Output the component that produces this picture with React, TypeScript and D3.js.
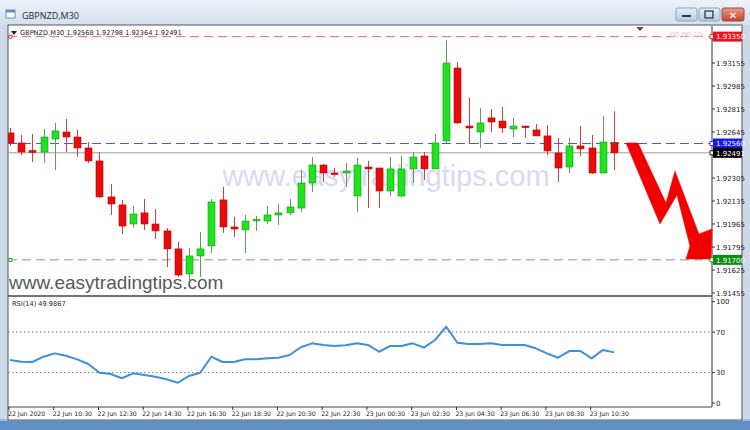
import React from 'react';
import * as d3 from 'd3';

const opens = [1.92638,1.92564,1.92507,1.92497,1.92593,1.92645,1.92608,1.92527,1.92431,1.92165,1.92106,1.91965,1.92047,1.91965,1.91914,1.91781,1.91596,1.91729,1.91803,1.92143,1.91943,1.91921,1.91995,1.91987,1.92032,1.92047,1.92083,1.92268,1.92401,1.92342,1.92342,1.92172,1.92386,1.92379,1.92209,1.92172,1.92372,1.92468,1.92372,1.92579,1.93118,1.92689,1.92645,1.92749,1.92726,1.92667,1.92689,1.92660,1.92616,1.92490,1.92386,1.92542,1.92527,1.92342,1.92568];
const highs = [1.92675,1.92623,1.92630,1.92667,1.92712,1.92741,1.92660,1.92571,1.92497,1.92261,1.92143,1.92098,1.92150,1.92076,1.91936,1.91832,1.91788,1.91906,1.92150,1.92239,1.92017,1.92032,1.92025,1.92098,1.92113,1.92150,1.92364,1.92460,1.92409,1.92379,1.92416,1.92453,1.92431,1.92379,1.92460,1.92468,1.92497,1.92497,1.92630,1.93325,1.93162,1.92896,1.92822,1.92815,1.92830,1.92749,1.92689,1.92704,1.92697,1.92601,1.92601,1.92689,1.92623,1.92763,1.92798];
const lows = [1.92542,1.92475,1.92423,1.92416,1.92364,1.92497,1.92460,1.92416,1.92157,1.92032,1.91891,1.91936,1.91921,1.91854,1.91647,1.91574,1.91551,1.91574,1.91751,1.91899,1.91869,1.91751,1.91914,1.91965,1.91958,1.92032,1.92054,1.92202,1.92276,1.92313,1.92239,1.92054,1.92083,1.92083,1.92172,1.92165,1.92268,1.92290,1.92372,1.92564,1.92705,1.92556,1.92527,1.92645,1.92638,1.92608,1.92601,1.92616,1.92475,1.92276,1.92342,1.92468,1.92335,1.92342,1.92364];
const closes = [1.92564,1.92497,1.92495,1.92608,1.92653,1.92608,1.92527,1.92431,1.92165,1.92113,1.91950,1.92039,1.91965,1.91914,1.91781,1.91588,1.91729,1.91781,1.92128,1.91943,1.91928,1.91987,1.91999,1.92032,1.92047,1.92091,1.92268,1.92401,1.92342,1.92335,1.92357,1.92401,1.92372,1.92209,1.92372,1.92372,1.92460,1.92372,1.92564,1.93155,1.92712,1.92675,1.92712,1.92719,1.92675,1.92689,1.92682,1.92616,1.92505,1.92379,1.92542,1.92520,1.92342,1.92571,1.92491];
const rsi = [42.4,40.8,40.5,45.7,49,46.7,43.1,38.5,29.9,28.6,24.4,29.3,27.6,26,23.4,20,26.7,29.9,45.7,40.5,40.5,43.1,43.1,44.1,44.7,47.4,55,58.9,57.3,56.3,57,58.9,57.3,50.6,56.3,56.3,58.9,54.6,62.2,75.3,59.5,58.2,58.2,58.9,57.3,57.3,57.3,54,49,44.7,51.3,51.3,44.1,52.3,49.99];

const timeLabels = ['22 Jun 2020','22 Jun 10:30','22 Jun 12:30','22 Jun 14:30','22 Jun 16:30','22 Jun 18:30','22 Jun 20:30','22 Jun 22:30','23 Jun 00:30','23 Jun 02:30','23 Jun 04:30','23 Jun 06:30','23 Jun 08:30','23 Jun 10:30'];
const priceTicks = [1.93325,1.93155,1.92985,1.92815,1.92645,1.92475,1.92305,1.92135,1.91965,1.91795,1.91625,1.91455];
const rsiTicks = [100,70,30,0];
const rsiLevels = [70,30];

const levelPrices = [1.93350, 1.92560, 1.92491, 1.91700];
const levelColors = ['#e86a6a', '#5050e6', '#9a9a9a', '#6aa86a'];
const levelTagColors = ['#e8141c', '#1a1ae8', '#000000', '#108a10'];

// arrow outline in (bar index, price)
const arrowIdx = [55.07, 56.15, 58.65, 59.45, 61.59, 62.76, 62.67, 60.43, 60.79, 59.63, 58.11];
const arrowPrice = [1.92564, 1.92564, 1.92120, 1.92357, 1.91891, 1.91928, 1.91706, 1.91706, 1.91802, 1.92179, 1.91965];

const F = 'Tahoma, "DejaVu Sans", "Liberation Sans", sans-serif';

export default function App() {
  const W = 750, H = 430;
  const left = 8, right = 712, top = 26, mainBottom = 296, rsiTop = 297, rsiBottom = 407;
  const x = d3.scaleLinear().domain([0, 54]).range([10, 614]);
  const y = d3.scaleLinear().domain([1.91455, 1.93155]).range([293, 63]);
  const yr = d3.scaleLinear().domain([0, 100]).range([403, 301.7]);
  const fmt = d3.format('.5f');
  const n = opens.length;
  const bw = 7;

  const rsiLine = d3.line<number>().x((_, i) => x(i)).y(d => yr(d))(rsi) || '';
  const arrowPath = (d3.line<number>().x(d => x(d)).y((_, i) => y(arrowPrice[i]))(arrowIdx) || '') + 'Z';
  const visibleTicks = priceTicks.filter(p => levelPrices.every(l => Math.abs(y(p) - y(l)) > 6));

  return (
    <div style={{ position: 'fixed', left: 0, top: 0, width: W, height: H }}>
      <svg width={W} height={H} style={{ display: 'block', fontFamily: F }}>
        <defs>
          <linearGradient id="tb" x1="0" y1="0" x2="0" y2="1">
            <stop offset="0" stopColor="#eef3f9" />
            <stop offset="1" stopColor="#d3e0ee" />
          </linearGradient>
          <linearGradient id="btn" x1="0" y1="0" x2="0" y2="1">
            <stop offset="0" stopColor="#e6eef7" />
            <stop offset="1" stopColor="#b7cbe0" />
          </linearGradient>
          <linearGradient id="cls" x1="0" y1="0" x2="0" y2="1">
            <stop offset="0" stopColor="#e8a090" />
            <stop offset="1" stopColor="#c4412c" />
          </linearGradient>
          <clipPath id="mainClip"><rect x={left} y={top} width={right - left} height={mainBottom - top} /></clipPath>
          <clipPath id="rsiClip"><rect x={left} y={rsiTop} width={right - left} height={rsiBottom - rsiTop} /></clipPath>
        </defs>
        {/* window frame */}
        <rect x={0} y={0} width={W} height={H} fill="#cbd9e8" />
        <rect x={0} y={0} width={W} height={25} fill="url(#tb)" />
        <rect x={0} y={420} width={W} height={10} fill="#5f8fc4" />
        <rect x={0} y={419} width={W} height={2} fill="#9dbde0" />
        {/* title */}
        <rect x={6} y={10} width={9} height={8} fill="#fff" stroke="#6e8fb5" strokeWidth={1} />
        <rect x={6} y={10} width={9} height={2.5} fill="#6e8fb5" />
        <text x={22} y={19} fontSize={9} fill="#1e2a3a" fontFamily='"Open Sans", "DejaVu Sans", sans-serif'>GBPNZD,M30</text>
        <rect x={676} y={8} width={21} height={13} rx={2} fill="url(#btn)" stroke="#8aa3c0" />
        <rect x={682} y={15} width={9} height={2} fill="#2a3a50" />
        <rect x={699} y={8} width={21} height={13} rx={2} fill="url(#btn)" stroke="#8aa3c0" />
        <rect x={705} y={11} width={8} height={7} fill="none" stroke="#2a3a50" strokeWidth={1.3} />
        <rect x={722} y={8} width={22} height={13} rx={2} fill="url(#cls)" stroke="#9a4a3a" />
        <text x={733} y={18.5} fontSize={10} fill="#fff" textAnchor="middle" fontWeight="bold">✕</text>

        {/* chart window */}
        <rect x={left} y={top - 1} width={742 - left} height={395} fill="#fff" stroke="#555" strokeWidth={1} />
        <line x1={right} x2={right} y1={top} y2={rsiBottom} stroke="#333" strokeWidth={1} />
        <line x1={left} x2={right} y1={mainBottom} y2={mainBottom} stroke="#444" strokeWidth={1.5} />
        <line x1={left} x2={right} y1={rsiBottom} y2={rsiBottom} stroke="#444" strokeWidth={1} />

        {/* watermark */}
        <text x={386} y={186} fontSize={29} fill="#d9d9f6" textAnchor="middle" fontFamily='"Liberation Sans", Arial, sans-serif'>www.easytradingtips.com</text>
        <text x={9} y={289} fontSize={19} fill="#5a5a5a" fontFamily='"Liberation Sans", Arial, sans-serif'>www.easytradingtips.com</text>

        {/* level lines */}
        <g clipPath="url(#mainClip)">
          {levelPrices.map((p, i) => (
            <line key={i} x1={left} x2={right} y1={y(p)} y2={y(p)} stroke={levelColors[i]}
              strokeWidth={1} strokeDasharray={i === 2 ? undefined : '9,5'} />
          ))}
        </g>
        <rect x={9} y={y(levelPrices[0]) - 1.5} width={3} height={3} fill="#fff" stroke="#e8141c" strokeWidth={0.8} />
        <rect x={9} y={y(levelPrices[3]) - 1.5} width={3} height={3} fill="#fff" stroke="#108a10" strokeWidth={0.8} />
        <text x={668} y={37} fontSize={7} fill="#e8c4c4">-00:00:20</text>
        <path d={`M636,27 L644,27 L640,31 Z`} fill="#555" />

        {/* candles */}
        <g clipPath="url(#mainClip)">
          {d3.range(n).map(i => {
            const up = closes[i] >= opens[i];
            const cx = Math.round(x(i)) + 0.5;
            const yt = y(Math.max(opens[i], closes[i]));
            const yb = y(Math.min(opens[i], closes[i]));
            return (
              <g key={i}>
                <line x1={cx} x2={cx} y1={y(highs[i])} y2={y(lows[i])} stroke={up ? '#5f9a5f' : '#d04040'} strokeWidth={1} />
                <rect x={cx - bw / 2} y={yt} width={bw} height={Math.max(1.5, yb - yt)}
                  fill={up ? '#1ee31e' : '#e80c0c'} stroke={up ? '#159a15' : '#c00000'} strokeWidth={0.6} />
              </g>
            );
          })}
        </g>

        {/* arrow */}
        <path d={arrowPath} fill="#f20000" stroke="#f20000" strokeWidth={0.5} strokeLinejoin="miter" />

        {/* header */}
        <path d="M11,31 L17,31 L14,35 Z" fill="#222" />
        <text x={20} y={35} fontSize={6.6} fill="#222">GBPNZD,M30  1.92568 1.92798 1.92364 1.92491</text>

        {/* price axis */}
        {priceTicks.map((p, i) => (
          <line key={i} x1={right} x2={right + 3} y1={y(p)} y2={y(p)} stroke="#333" />
        ))}
        {visibleTicks.map((p, i) => (
          <text key={i} x={716} y={y(p) + 2.5} fontSize={7} fill="#222">{fmt(p)}</text>
        ))}
        {levelPrices.map((p, i) => (
          <g key={i}>
            <rect x={right - 2} y={y(p) - 2} width={4} height={4} fill="#fff" stroke={levelTagColors[i]} strokeWidth={0.8} />
            <rect x={713} y={y(p) - 5} width={29} height={10} fill={levelTagColors[i]} />
            <text x={716} y={y(p) + 2.8} fontSize={7} fill="#fff">{fmt(p)}</text>
          </g>
        ))}

        {/* RSI */}
        <text x={12} y={306} fontSize={6.6} fill="#222">RSI(14) 49.9867</text>
        {rsiLevels.map(l => (
          <line key={l} x1={left} x2={right} y1={yr(l)} y2={yr(l)} stroke="#777" strokeWidth={1} strokeDasharray="1.5,2.5" />
        ))}
        <g clipPath="url(#rsiClip)">
          <path d={rsiLine} fill="none" stroke="#3d8fe0" strokeWidth={2} strokeLinejoin="round" />
        </g>
        {rsiTicks.map(t => (
          <g key={t}>
            <line x1={right} x2={right + 3} y1={yr(t)} y2={yr(t)} stroke="#333" />
            <text x={716} y={yr(t) + 2.5} fontSize={7} fill="#222">{t}</text>
          </g>
        ))}

        {/* time axis */}
        {timeLabels.map((t, i) => (
          <g key={i}>
            <line x1={x(i * 4) - 1} x2={x(i * 4) - 1} y1={rsiBottom} y2={rsiBottom + 3} stroke="#333" />
            <text x={x(i * 4) - 2} y={416} fontSize={6.2} fill="#222">{t}</text>
          </g>
        ))}
      </svg>
    </div>
  );
}
